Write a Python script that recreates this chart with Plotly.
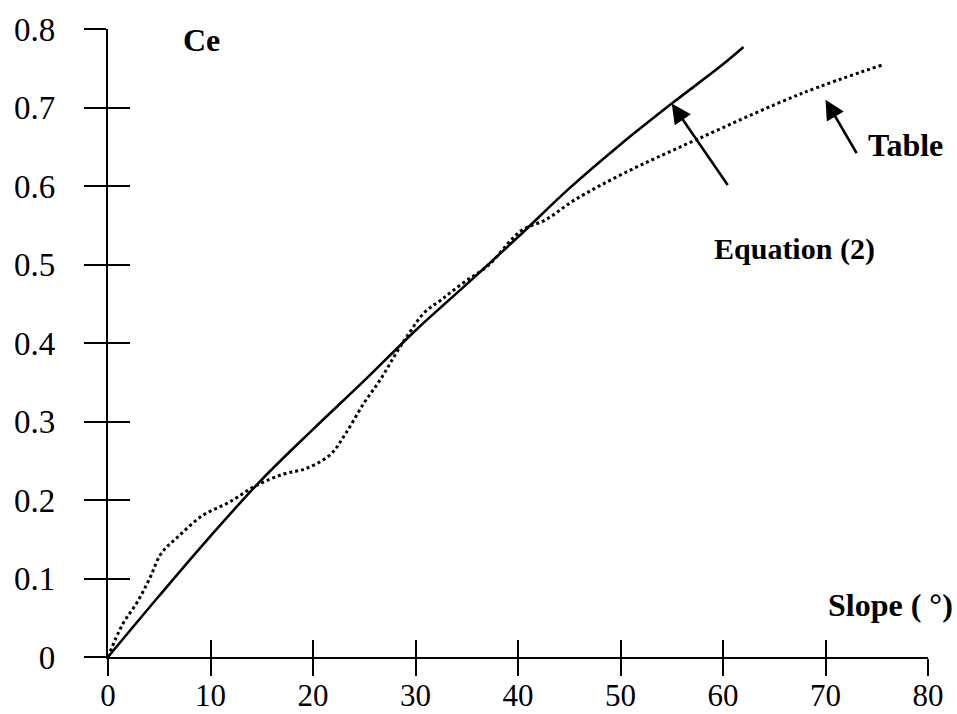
import plotly.graph_objects as go

# ---- data ----
eq_slope = [0, 5, 10, 15, 20, 25, 30, 35, 40, 45, 50, 55, 60, 62]
eq_ce = [0, 0.078, 0.154, 0.226, 0.290, 0.352, 0.416, 0.475, 0.535, 0.597, 0.653, 0.705, 0.755, 0.777]

tab_slope = [0, 1.4, 2.9, 4.1, 5.2, 6.9, 9.2, 11.8, 14.4, 17.1, 19.3, 21.7, 23.2, 24.9,
             26.6, 28.2, 29.2, 30.8, 32.5, 34.7, 37.1, 40.3, 42.7, 45.5, 50.3, 57.4, 67.7, 75.5]
tab_ce = [0, 0.041, 0.071, 0.101, 0.132, 0.154, 0.180, 0.197, 0.218, 0.233, 0.240, 0.258, 0.285, 0.322,
          0.354, 0.389, 0.409, 0.438, 0.455, 0.477, 0.499, 0.543, 0.557, 0.582, 0.616, 0.659, 0.718, 0.754]

x_ticks = [0, 10, 20, 30, 40, 50, 60, 70, 80]
x_ticktext = ["0", "10", "20", "30", "40", "50", "60", "70", "80"]
y_ticks = [0, 0.1, 0.2, 0.3, 0.4, 0.5, 0.6, 0.7, 0.8]
y_ticktext = ["0", "0.1", "0.2", "0.3", "0.4", "0.5", "0.6", "0.7", "0.8"]

SERIF = "Liberation Serif, Times New Roman, serif"

fig = go.Figure()
fig.add_trace(go.Scatter(x=eq_slope, y=eq_ce, mode="lines", line=dict(color="black", width=2.6, shape="spline"),
                         name="Equation (2)", showlegend=False))
fig.add_trace(go.Scatter(x=tab_slope, y=tab_ce, mode="lines",
                         line=dict(color="black", width=3, dash="3px,3px", shape="spline", smoothing=1.0),
                         name="Table", showlegend=False))
# invisible trace for the overlaid axes (inner half of crossing ticks)
fig.add_trace(go.Scatter(x=[], y=[], xaxis="x2", yaxis="y2", showlegend=False))

axis_common = dict(showgrid=False, zeroline=False, linecolor="black", linewidth=2.2,
                   tickcolor="black", tickwidth=2.4, automargin=False)

fig.update_layout(
    width=957, height=714,
    margin=dict(l=108, r=29, t=29, b=57),
    paper_bgcolor="white", plot_bgcolor="white",
    xaxis=dict(range=[0, 80], tickvals=x_ticks, ticktext=x_ticktext, showline=True,
               ticks="outside", ticklen=17, ticklabelstandoff=-7,
               tickfont=dict(family=SERIF, size=31, color="black"), **axis_common),
    yaxis=dict(range=[0, 0.8], tickvals=y_ticks, ticktext=y_ticktext, showline=True,
               ticks="outside", ticklen=22, ticklabelstandoff=22,
               tickfont=dict(family=SERIF, size=33, color="black"), **axis_common),
    xaxis2=dict(range=[0, 80], tickvals=x_ticks[1:], overlaying="x", anchor="y2", side="bottom",
                showline=False, ticks="inside", ticklen=17, showticklabels=False, **axis_common),
    yaxis2=dict(range=[0, 0.8], tickvals=y_ticks[1:], overlaying="y", anchor="x2", side="left",
                showline=False, ticks="inside", ticklen=22, showticklabels=False, **axis_common),
)

def paper_x(px):
    return (px - 108) / 820.0

def paper_y(py):
    return (657 - py) / 628.0

def label(px, py, text, size=32):
    fig.add_annotation(x=paper_x(px), y=paper_y(py), xref="paper", yref="paper", text=text,
                       xanchor="center", yanchor="middle", showarrow=False,
                       font=dict(family=SERIF, size=size, color="black"))

label(201, 40, "<b>Ce</b>")
label(890, 605, "<b>Slope ( °)</b>")
label(905, 145, "<b>Table</b>")
label(794, 249, "<b>Equation (2)</b>", size=30)

# Arrows
fig.add_annotation(x=55, y=0.705, xref="x", yref="y", ax=57, ay=83, text="",
                   showarrow=True, arrowhead=2, arrowsize=1.5, arrowwidth=2.6, arrowcolor="black")
fig.add_annotation(x=70, y=0.71, xref="x", yref="y", ax=32, ay=55, text="",
                   showarrow=True, arrowhead=2, arrowsize=1.5, arrowwidth=2.6, arrowcolor="black")

fig.write_html("out.html")
